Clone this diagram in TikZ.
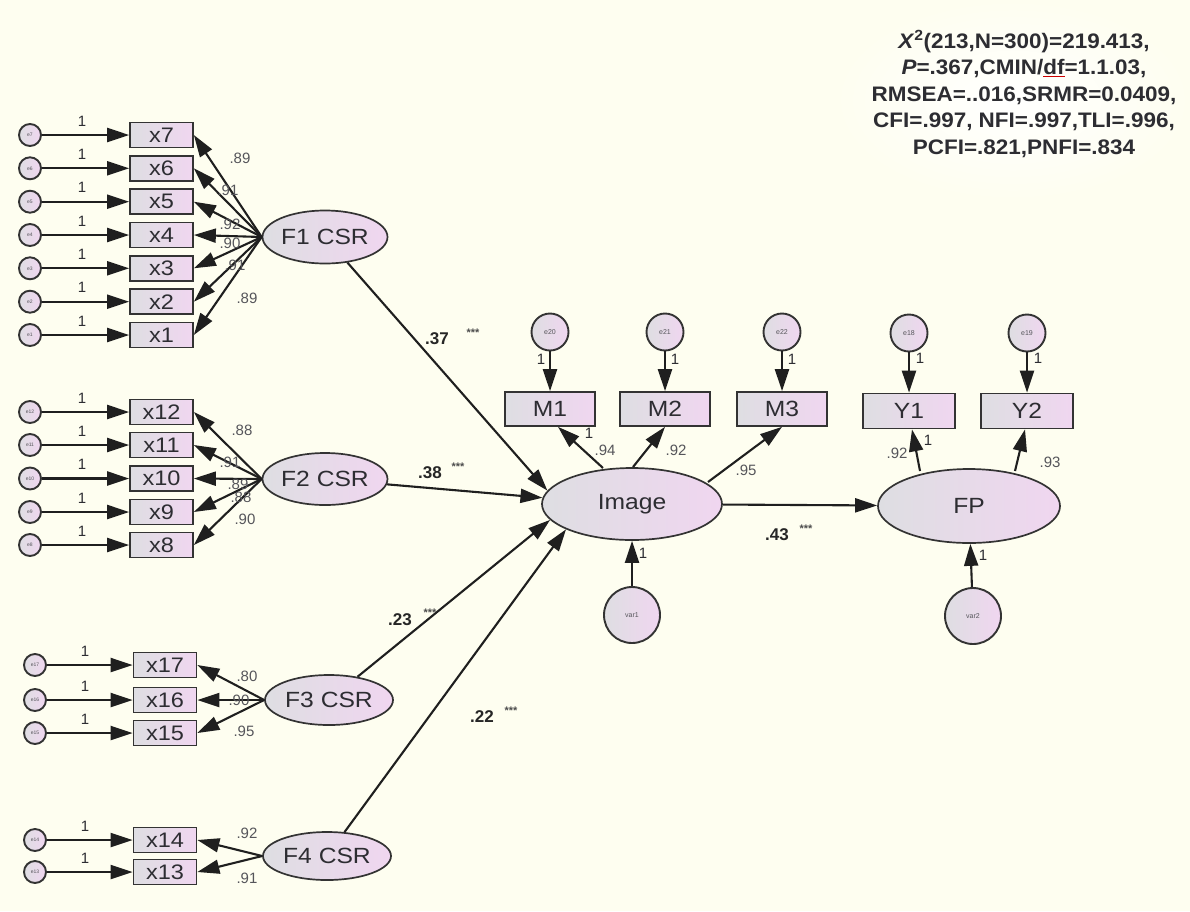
\documentclass[tikz,border=0pt]{standalone}
\usepackage{fontspec}
\setmainfont{Liberation Sans}
\newfontfamily\fitfont[FakeStretch=1.07]{Liberation Sans}
\newfontfamily\wfont[FakeStretch=1.12]{Liberation Sans}
\usetikzlibrary{shapes.geometric,arrows.meta}
\definecolor{cream}{RGB}{254,254,240}
\definecolor{lgray}{RGB}{222,222,226}
\definecolor{lpink}{RGB}{240,214,240}
\definecolor{txt}{RGB}{45,45,50}
\definecolor{ldg}{RGB}{85,85,90}
\tikzset{
  conn/.style={line width=2.1pt, draw=black!88, -{Triangle[length=22pt,width=14pt]}},
  shade2/.style={left color=lgray, right color=lpink, middle color=lgray!50!lpink},
  obs/.style={rectangle, draw=black!80, line width=1.7pt, shade2, minimum width=63pt, minimum height=25pt, inner sep=0pt, text=txt, font=\wfont\fontsize{21}{21}\selectfont},
  obsb/.style={obs, minimum width=90pt, minimum height=34pt, font=\wfont\fontsize{22}{22}\selectfont},
  lat/.style={ellipse, draw=black!80, line width=1.7pt, shade2, inner sep=0pt, text=txt, font=\wfont\fontsize{22}{22}\selectfont},
  errc/.style={circle, draw=black!80, line width=1.9pt, shade2, minimum size=22pt, inner sep=0pt, text=ldg, font=\fontsize{5}{5}\selectfont},
  errm/.style={errc, minimum size=37pt, font=\fontsize{7}{7}\selectfont},
  errv/.style={errc, minimum size=56pt, font=\fontsize{7}{7}\selectfont},
  ld/.style={text=ldg, font=\fontsize{15}{15}\selectfont, inner sep=0pt},
  one/.style={text=txt, font=\fontsize{15}{15}\selectfont, inner sep=0pt},
  pth/.style={text=black!85, font=\bfseries\fontsize{17}{17}\selectfont, inner sep=0pt},
  stars/.style={text=black!70, font=\bfseries\fontsize{11}{11}\selectfont, inner sep=0pt},
}
\begin{document}
\begin{tikzpicture}[x=1pt,y=-1pt]
\fill[cream] (0,0) rectangle (1190,911);
\shade[inner color=white, outer color=cream] (835,0) rectangle (1190,200);
\useasboundingbox (0,0) rectangle (1190,911);

% fit text
\node[text=txt, align=center, font=\fitfont\bfseries\fontsize{21}{26.5}\selectfont, inner sep=0pt] (fit) at (1024,94)
 {\textit{X}\textsuperscript{2}(213,N=300)=219.413,\\
  \textit{P}=.367,CMIN/{\color{red!80!black}\underline{\color{txt}df}}=1.1.03,\\
  RMSEA=..016,SRMR=0.0409,\\
  CFI=.997, NFI=.997,TLI=.996,\\
  PCFI=.821,PNFI=.834};

% ---------- F1 ----------
\node[lat, minimum width=125pt, minimum height=53pt] (F1) at (325,237) {F1 CSR};
\foreach \n/\y in {7/135,6/168.3,5/201.7,4/235,3/268.3,2/301.7,1/335}{
  \node[obs] (x\n) at (161.5,\y) {x\n};
  \node[errc] (e\n) at (30,\y) {e\n};
  \draw[conn] (e\n) -- (x\n);
  \node[one] (o\n) at (82,\y-14) {1};
  \draw[conn] (F1.west) -- (x\n.east);
}
\node[ld] (l7) at (240,158) {.89};
\node[ld] (l6) at (228,190) {.91};
\node[ld] (l5) at (230,224) {.92};
\node[ld] (l4) at (230,243) {.90};
\node[ld] (l3) at (235,265) {.91};
\node[ld] (l2) at (247,298) {.89};

% ---------- F2 ----------
\node[lat, minimum width=125pt, minimum height=52pt] (F2) at (325,479) {F2 CSR};
\foreach \n/\y in {12/412,11/445,10/478.5,9/512,8/545}{
  \node[obs] (x\n) at (161.5,\y) {x\n};
  \node[errc] (e\n) at (30,\y) {e\n};
  \draw[conn] (e\n) -- (x\n);
  \node[one] (o\n) at (82,\y-14) {1};
  \draw[conn] (F2.west) -- (x\n.east);
}
\node[ld] (l12) at (242,430) {.88};
\node[ld] (l11) at (230,462) {.91};
\node[ld] (l10) at (238,484) {.89};
\node[ld] (l9) at (241,497) {.88};
\node[ld] (l8) at (245,519) {.90};

% ---------- F3 ----------
\node[lat, minimum width=128pt, minimum height=50pt] (F3) at (329,700) {F3 CSR};
\foreach \n/\y in {17/665,16/700,15/733}{
  \node[obs] (x\n) at (165,\y) {x\n};
  \node[errc] (e\n) at (35,\y) {e\n};
  \draw[conn] (e\n) -- (x\n);
  \node[one] (o\n) at (85,\y-14) {1};
  \draw[conn] (F3.west) -- (x\n.east);
}
\node[ld] (l17) at (247,676) {.80};
\node[ld] (l16) at (239,700) {.90};
\node[ld] (l15) at (244,731) {.95};

% ---------- F4 ----------
\node[lat, minimum width=128pt, minimum height=48pt] (F4) at (327,856) {F4 CSR};
\foreach \n/\y in {14/840,13/872}{
  \node[obs] (x\n) at (165,\y) {x\n};
  \node[errc] (e\n) at (35,\y) {e\n};
  \draw[conn] (e\n) -- (x\n);
  \node[one] (o\n) at (85,\y-14) {1};
  \draw[conn] (F4.west) -- (x\n.east);
}
\node[ld] (l14) at (247,833) {.92};
\node[ld] (l13) at (247,878) {.91};

% ---------- Image ----------
\node[lat, minimum width=180pt, minimum height=72pt] (Img) at (632,504) {Image};
\node[obsb] (M1) at (550,409) {M1};
\node[obsb] (M2) at (665,409) {M2};
\node[obsb] (M3) at (782,409) {M3};
\node[errm] (e20) at (550,332) {e20};
\node[errm] (e21) at (665,332) {e21};
\node[errm] (e22) at (782,332) {e22};
\draw[conn] (e20) -- (M1);
\draw[conn] (e21) -- (M2);
\draw[conn] (e22) -- (M3);
\node[one] (o20) at (541,359) {1};
\node[one] (o21) at (675,359) {1};
\node[one] (o22) at (792,359) {1};
\coordinate (i1) at (603,468);
\coordinate (i2) at (633,467);
\coordinate (i3) at (708,482);
\draw[conn] (i1) -- ([xshift=8pt]M1.south);
\draw[conn] (i2) -- (M2.south);
\draw[conn] (i3) -- (M3.south);
\node[one] (om1) at (589,433) {1};
\node[ld] (lm1) at (605,450) {.94};
\node[ld] (lm2) at (676,450) {.92};
\node[ld] (lm3) at (746,470) {.95};
\node[errv] (var1) at (632,615) {var1};
\draw[conn] (var1) -- (Img);
\node[one] (ov1) at (643,553) {1};

% ---------- FP ----------
\node[lat, minimum width=182pt, minimum height=74pt] (FP) at (969,506) {FP};
\node[obsb, minimum width=92pt, minimum height=35pt] (Y1) at (909,411) {Y1};
\node[obsb, minimum width=92pt, minimum height=35pt] (Y2) at (1027,411) {Y2};
\node[errm] (e18) at (909,333) {e18};
\node[errm] (e19) at (1027,333) {e19};
\draw[conn] (e18) -- (Y1);
\draw[conn] (e19) -- (Y2);
\node[one] (o18) at (920,358) {1};
\node[one] (o19) at (1038,358) {1};
\coordinate (f1) at (920,471);
\coordinate (f2) at (1015,471);
\draw[conn] (f1) -- ([xshift=3pt]Y1.south);
\draw[conn] (f2) -- ([xshift=-2pt]Y2.south);
\node[one] (oy1) at (928,440) {1};
\node[ld] (ly1) at (897,453) {.92};
\node[ld] (ly2) at (1050,462) {.93};
\node[errv] (var2) at (973,616) {var2};
\draw[conn] (var2) -- (FP);
\node[one] (ov2) at (983,555) {1};

% ---------- structural paths ----------
\draw[conn] (F1) -- (Img.171);
\draw[conn] (F2) -- (Img.176);
\draw[conn] (F3) -- (Img.191);
\draw[conn] (F4) -- (Img.201);
\draw[conn] (Img) -- (FP);

\node[pth] (p1) at (437,339) {.37};
\node[stars] (s1) at (473,333) {***};
\node[pth] (p2) at (430,473) {.38};
\node[stars] (s2) at (458,467) {***};
\node[pth] (p3) at (400,620) {.23};
\node[stars] (s3) at (430,613) {***};
\node[pth] (p4) at (482,717) {.22};
\node[stars] (s4) at (511,711) {***};
\node[pth] (p5) at (777,535) {.43};
\node[stars] (s5) at (806,529) {***};
\end{tikzpicture}
\end{document}
